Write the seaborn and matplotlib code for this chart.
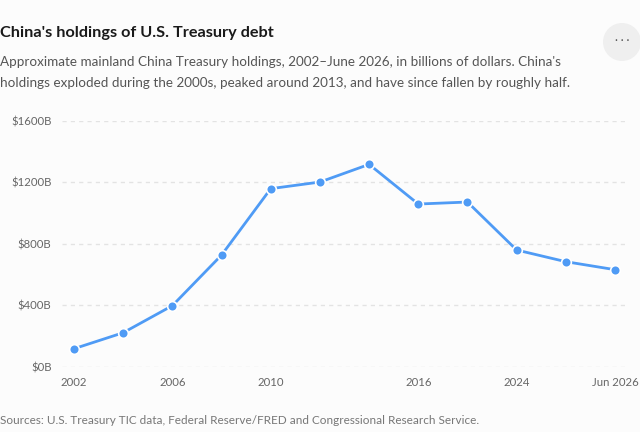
import pandas as pd
import matplotlib.pyplot as plt
import seaborn as sns
from matplotlib.patches import Ellipse

# data (billions of USD)
periods = ["2002", "2004", "2006", "2008", "2010", "2012", "2014",
           "2016", "2020", "2024", "2025", "Jun 2026"]
holdings = [117, 221, 397, 726, 1158, 1201, 1316, 1058, 1071, 759, 683, 631]
shown_ticks = ["2002", "2006", "2010", "2016", "2024", "Jun 2026"]
y_ticks = [0, 400, 800, 1200, 1600]

df = pd.DataFrame({"period": periods, "holdings": holdings})

sns.set_theme(style="white")
plt.rcParams["font.family"] = ["Lato", "DejaVu Sans"]

bg = "#fcfcfc"
fig = plt.figure(figsize=(6.4, 4.32), dpi=100, facecolor=bg)
ax = fig.add_axes([62 / 640, 1 - 366.7 / 432, (627 - 62) / 640, 246 / 432])
ax.set_facecolor(bg)

sns.lineplot(data=df, x="period", y="holdings", ax=ax, color="#4f9bf5",
             linewidth=2, marker="o", markersize=7, markeredgecolor="white",
             markeredgewidth=1.2, sort=False, clip_on=False, zorder=3)

ax.set_xlim(-0.244, len(periods) - 1 + 0.244)
ax.set_ylim(0, 1600)
ax.set_yticks(y_ticks)
ax.set_yticklabels([f"${v}B" for v in y_ticks])
ax.set_xticks([periods.index(p) for p in shown_ticks])
ax.set_xticklabels(shown_ticks)
ax.set_xlabel("")
ax.set_ylabel("")
ax.tick_params(axis="both", length=0, labelsize=8.2, colors="#666666")
ax.tick_params(axis="y", pad=7.5)
ax.tick_params(axis="x", pad=7.5)
ax.grid(axis="y", color="#e3e3e3", linestyle=(0, (3, 3)), linewidth=1)
ax.set_axisbelow(True)
sns.despine(ax=ax, left=True, bottom=True)

# header
fig.text(0, 1 - 33.5 / 432, "China's holdings of U.S. Treasury debt",
         fontsize=11.7, fontweight="bold", color="#1a1a1a", va="center")
fig.text(0, 1 - 62.5 / 432,
         "Approximate mainland China Treasury holdings, 2002\u2013June 2026, in billions of dollars. China's",
         fontsize=9.7, color="#555555", va="center")
fig.text(0, 1 - 83 / 432,
         "holdings exploded during the 2000s, peaked around 2013, and have since fallen by roughly half.",
         fontsize=9.7, color="#555555", va="center")

# menu button
fig.patches.append(Ellipse((622 / 640, 1 - 42 / 432), 38 / 640, 38 / 432,
                           transform=fig.transFigure, facecolor="#efefef", edgecolor="none"))
fig.text(622 / 640, 1 - 41 / 432, "\u00b7 \u00b7 \u00b7", ha="center", va="center",
         fontsize=8, color="#555555")

# footer
fig.text(0, 1 - 421 / 432,
         "Sources: U.S. Treasury TIC data, Federal Reserve/FRED and Congressional Research Service.",
         fontsize=8.5, color="#777777", va="center")

plt.savefig("out.png", dpi=100, facecolor=bg)
plt.close()
